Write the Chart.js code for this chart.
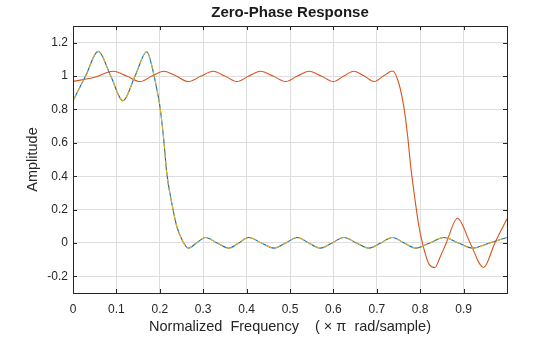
<!DOCTYPE html>
<html>
<head>
<meta charset="utf-8">
<script src="https://cdn.jsdelivr.net/npm/chart.js@4/dist/chart.umd.min.js"></script>
<style>
    body { margin: 0; background: #fff; }
</style>
</head>
<body>
<canvas id="graphique_zerophase" width="560" height="337"></canvas>
<script>
// low-pass filter (drawn twice: blue solid + yellow dashed)
const lpFreq = [0, 0.029, 0.058, 0.087, 0.115, 0.143, 0.170, 0.185, 0.193, 0.200, 0.209, 0.216, 0.229, 0.239, 0.251, 0.266,
    0.285, 0.305, 0.332, 0.359, 0.382, 0.405, 0.434, 0.463, 0.490, 0.517, 0.543, 0.570, 0.597, 0.624, 0.653,
    0.682, 0.709, 0.736, 0.763, 0.790, 0.822, 0.855, 0.888, 0.921, 0.960, 1.0];
const lpAmp = [0.852, 1.0, 1.148, 1.0, 0.852, 1.0, 1.146, 1.024, 0.923, 0.823, 0.622, 0.42, 0.22, 0.10, 0.02, -0.031,
    0.0, 0.033, 0.0, -0.031, 0.0, 0.033, 0.0, -0.031, 0.0, 0.033, 0.0, -0.031, 0.0, 0.033, 0.0,
    -0.031, 0.0, 0.033, 0.0, -0.031, 0.0, 0.033, 0.0, -0.031, 0.0, 0.033];

// wide-band filter (orange)
const wbFreq = [0, 0.05, 0.093, 0.124, 0.155, 0.182, 0.209, 0.238, 0.266, 0.295, 0.323, 0.350, 0.378, 0.405, 0.432,
    0.461, 0.490, 0.517, 0.544, 0.572, 0.600, 0.624, 0.647, 0.671, 0.694, 0.715, 0.736, 0.751, 0.763, 0.771,
    0.778, 0.788, 0.797, 0.807, 0.821, 0.834, 0.845, 0.860, 0.886, 0.915, 0.946, 0.972, 1.0];
const wbAmp = [0.968, 0.993, 1.029, 1.0, 0.967, 1.0, 1.029, 1.0, 0.967, 1.0, 1.029, 1.0, 0.967, 1.0, 1.029,
    1.0, 0.967, 1.0, 1.029, 1.0, 0.967, 1.0, 1.029, 1.0, 0.967, 1.0, 1.030, 0.954, 0.803, 0.642,
    0.462, 0.26, 0.10, -0.02, -0.13, -0.147, -0.09, 0.0, 0.148, 0.0, -0.147, 0.0, 0.145];

const xTicks = [0, 0.1, 0.2, 0.3, 0.4, 0.5, 0.6, 0.7, 0.8, 0.9];
const yTicks = [-0.2, 0, 0.2, 0.4, 0.6, 0.8, 1, 1.2];

function points(xs, ys) {
    return xs.map((x, i) => ({ x: x, y: ys[i] }));
}

const police = 'Liberation Sans, Arial, Helvetica, sans-serif';
const couleurAxe = '#262626';

// box + inward tick marks, matlab style
const cadre = {
    id: 'cadre',
    afterDraw(chart) {
        const { ctx, chartArea: a, scales } = chart;
        ctx.save();
        ctx.strokeStyle = couleurAxe;
        ctx.lineWidth = 1;
        ctx.beginPath();
        scales.x.ticks.forEach(t => {
            const px = Math.round(scales.x.getPixelForValue(t.value)) + 0.5;
            ctx.moveTo(px, a.bottom); ctx.lineTo(px, a.bottom - 4);
            ctx.moveTo(px, a.top); ctx.lineTo(px, a.top + 4);
        });
        scales.y.ticks.forEach(t => {
            const py = Math.round(scales.y.getPixelForValue(t.value)) + 0.5;
            ctx.moveTo(a.left, py); ctx.lineTo(a.left + 4, py);
            ctx.moveTo(a.right, py); ctx.lineTo(a.right - 4, py);
        });
        ctx.stroke();
        ctx.strokeRect(Math.round(a.left) + 0.5, Math.round(a.top) + 0.5,
            Math.round(a.right - a.left), Math.round(a.bottom - a.top));
        ctx.restore();
    }
};

const ligne = {
    pointRadius: 0,
    borderWidth: 1.1,
    fill: false,
    cubicInterpolationMode: 'monotone'
};

// chart.js draws the first dataset on top, so the dashed copy goes first
new Chart(document.getElementById('graphique_zerophase').getContext('2d'), {
    type: 'line',
    data: {
        datasets: [
            Object.assign({ label: 'Filtre 1 (bis)', data: points(lpFreq, lpAmp), borderColor: '#EDB120', borderDash: [6, 3] }, ligne),
            Object.assign({ label: 'Filtre 2', data: points(wbFreq, wbAmp), borderColor: '#D95319' }, ligne),
            Object.assign({ label: 'Filtre 1', data: points(lpFreq, lpAmp), borderColor: '#0072BD' }, ligne)
        ]
    },
    options: {
        responsive: false,
        animation: false,
        layout: { padding: { left: 0, right: 53, top: 0, bottom: 0 } },
        plugins: {
            legend: { display: false },
            tooltip: { enabled: false },
            title: {
                display: true,
                text: 'Zero-Phase Response',
                fullSize: false,
                color: '#1a1a1a',
                font: { family: police, size: 15, weight: 'bold' },
                padding: { top: 4, bottom: 4 }
            }
        },
        scales: {
            x: {
                type: 'linear',
                min: 0,
                max: 1,
                afterBuildTicks: scale => { scale.ticks = xTicks.map(v => ({ value: v })); },
                afterFit: scale => { scale.height = 44; },
                grid: { color: '#dedede', drawTicks: false },
                border: { display: false },
                ticks: {
                    padding: 9,
                    color: '#262626',
                    font: { family: police, size: 12 },
                    maxRotation: 0,
                    callback: v => String(parseFloat(v.toFixed(1)))
                },
                title: {
                    display: true,
                    text: 'Normalized  Frequency    ( × π  rad/sample)',
                    color: '#262626',
                    font: { family: police, size: 14.5 },
                    padding: { top: 0, bottom: 1 }
                }
            },
            y: {
                type: 'linear',
                min: -0.3,
                max: 1.3,
                afterBuildTicks: scale => { scale.ticks = yTicks.map(v => ({ value: v })); },
                afterFit: scale => { scale.width = 73; },
                grid: { color: '#dedede', drawTicks: false },
                border: { display: false },
                ticks: {
                    padding: 5,
                    color: '#262626',
                    font: { family: police, size: 12 },
                    callback: v => String(parseFloat(v.toFixed(1)))
                },
                title: {
                    display: true,
                    text: 'Amplitude',
                    color: '#262626',
                    font: { family: police, size: 14.5 },
                    padding: { top: 24.5, bottom: 0 }
                }
            }
        }
    },
    plugins: [cadre]
});
</script>
</body>
</html>
